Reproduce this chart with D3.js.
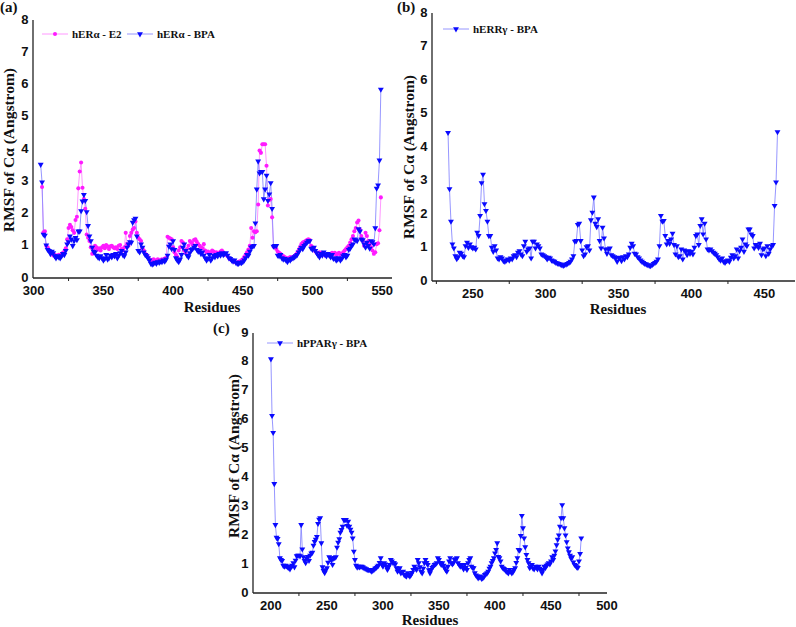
<!DOCTYPE html>
<html><head><meta charset="utf-8">
<script src="https://cdn.jsdelivr.net/npm/d3@7"></script>
<style>body{margin:0;background:#fff;} svg{display:block;}</style>
</head><body><svg id="c" width="796" height="627"></svg>
<script>
// ---------- DATA ----------
// Panel (a) hERα
const eraE2Start = 306;
const eraE2 = [
2.82,1.42,1.45,1.00,0.95,0.85,0.80,0.75,0.70,0.72,
0.70,0.68,0.72,0.70,0.75,0.78,0.82,0.92,1.20,1.55,
1.65,1.58,1.48,1.40,1.80,1.90,2.78,3.30,3.58,2.80,
2.45,2.15,1.35,1.25,1.15,0.95,0.75,0.90,1.00,0.95,
0.88,0.92,0.85,0.95,1.00,0.92,1.02,0.98,0.90,0.98,
1.00,0.95,0.92,0.95,0.90,1.00,1.02,0.90,0.85,0.95,
1.40,1.05,1.00,1.30,1.40,1.50,1.55,1.75,1.40,1.25,
1.20,1.15,0.92,0.85,0.75,0.72,0.65,0.58,0.55,0.55,
0.58,0.55,0.52,0.58,0.55,0.55,0.58,0.55,0.60,0.62,
1.28,1.25,1.22,1.20,0.95,0.80,0.72,0.65,0.85,0.95,
1.15,1.10,0.85,0.78,0.90,1.00,1.15,1.10,1.05,1.18,
1.20,1.12,1.05,1.00,0.95,0.92,1.05,0.85,0.80,0.82,
0.78,0.80,0.85,0.82,0.78,0.80,0.75,0.78,0.82,0.85,
0.80,0.75,0.72,0.68,0.62,0.58,0.55,0.52,0.50,0.48,
0.48,0.50,0.52,0.55,0.58,0.65,0.72,0.80,0.88,1.00,
1.55,1.25,1.45,1.42,1.45,2.28,3.95,3.88,4.15,4.15,
4.15,3.48,2.25,2.42,2.45,1.88,0.98,0.95,0.90,0.82,
0.78,0.75,0.70,0.68,0.65,0.62,0.60,0.62,0.65,0.60,
0.65,0.68,0.72,0.78,0.85,0.95,1.05,1.10,1.12,1.15,
1.18,1.20,1.18,1.00,0.95,0.90,0.82,0.78,0.75,0.80,
0.72,0.78,0.75,0.70,0.72,0.75,0.70,0.72,0.78,0.75,
0.78,0.72,0.75,0.78,0.72,0.75,0.80,0.85,0.90,0.95,
1.00,1.10,1.20,1.30,1.45,1.55,1.72,1.78,1.50,1.30,
1.15,1.00,1.40,1.30,1.15,1.05,0.95,0.85,0.75,0.80,
1.05,1.08,1.48,2.50];
const eraBPAStart = 305;
const eraBPA = [
3.52,2.97,1.35,1.32,1.02,0.88,0.85,0.75,0.82,0.78,
0.68,0.62,0.68,0.65,0.62,0.68,0.75,0.72,0.85,1.05,
1.12,1.30,1.20,1.00,1.15,1.25,1.18,1.45,1.45,2.08,
2.38,2.58,2.40,2.05,1.62,1.30,1.15,0.95,0.82,0.80,
0.70,0.65,0.62,0.68,0.62,0.55,0.60,0.72,0.58,0.62,
0.70,0.65,0.72,0.68,0.75,0.62,0.70,0.78,0.85,0.72,
0.68,0.80,0.95,1.05,1.12,1.10,1.72,1.80,1.85,1.30,
0.85,0.80,1.05,0.95,0.80,0.72,0.68,0.62,0.55,0.45,
0.42,0.45,0.48,0.45,0.50,0.48,0.52,0.50,0.55,0.52,
0.58,0.70,0.98,1.05,0.90,1.15,0.88,0.62,0.55,0.50,
0.58,0.72,0.95,1.05,0.85,0.70,0.65,0.78,0.88,0.90,
0.95,1.00,0.88,0.82,0.85,0.75,0.80,0.70,0.62,0.55,
0.60,0.72,0.55,0.62,0.70,0.65,0.72,0.68,0.75,0.70,
0.78,0.72,0.75,0.78,0.70,0.62,0.60,0.55,0.52,0.55,
0.48,0.45,0.45,0.48,0.47,0.50,0.55,0.62,0.72,0.70,
0.82,0.95,0.98,1.00,1.70,2.75,3.62,3.25,3.30,3.30,
2.45,2.75,3.18,2.40,2.60,2.95,2.15,0.98,1.00,1.00,
0.70,0.68,0.72,0.62,0.58,0.60,0.55,0.50,0.58,0.55,
0.60,0.62,0.65,0.68,0.72,0.80,0.88,0.95,0.90,1.00,
1.05,1.10,1.15,1.15,0.92,0.88,0.95,0.85,0.78,0.70,
0.65,0.75,0.70,0.80,0.72,0.68,0.75,0.70,0.65,0.72,
0.60,0.62,0.55,0.58,0.62,0.55,0.60,0.68,0.72,0.65,
0.70,0.88,0.92,1.00,1.05,1.20,1.18,1.15,1.52,1.45,
1.20,1.18,1.05,0.95,1.10,1.00,0.92,1.15,1.12,1.05,
1.55,2.78,2.88,3.65,5.85];

// Panel (b) hERRγ
const errStart = 233;
const errBPA = [
4.43,2.75,1.78,1.10,0.98,0.75,0.66,0.72,0.85,0.82,
0.75,0.72,1.05,1.15,1.00,1.10,1.02,0.98,1.00,0.95,
1.45,1.35,1.95,2.93,3.18,2.30,2.10,1.78,1.35,1.35,
1.00,0.88,1.05,0.92,0.68,0.65,0.72,0.68,0.60,0.58,
0.62,0.65,0.62,0.68,0.65,0.75,0.78,0.72,0.85,0.90,
0.80,0.75,1.05,1.18,0.88,0.95,0.98,0.68,1.18,1.18,
0.98,1.10,1.05,0.98,0.80,0.78,0.75,0.72,0.65,0.70,
0.68,0.62,0.60,0.58,0.55,0.53,0.52,0.50,0.48,0.46,
0.48,0.50,0.52,0.55,0.58,0.65,0.75,1.18,1.20,1.68,
1.72,1.20,0.92,0.75,0.80,1.02,1.05,0.92,1.82,2.05,
2.50,1.72,1.62,1.85,1.20,0.98,1.60,1.28,0.95,0.82,
0.95,0.98,0.78,0.75,0.72,0.68,0.58,0.70,0.68,0.60,
0.72,0.65,0.75,0.72,0.80,1.00,1.12,1.05,0.82,0.80,
0.72,0.68,0.62,0.58,0.55,0.52,0.50,0.48,0.46,0.45,
0.48,0.52,0.55,0.58,0.65,1.05,1.95,1.78,1.80,1.35,
1.10,1.20,1.12,1.25,1.42,1.08,0.80,1.05,0.72,0.75,
0.95,0.65,0.92,0.88,0.78,0.90,0.82,0.88,0.80,1.00,
1.35,1.40,1.08,1.65,1.85,1.40,1.72,1.25,0.95,0.92,
0.95,0.90,0.85,0.82,0.78,0.72,0.65,0.62,0.68,0.58,
0.55,0.60,0.62,0.58,0.70,0.78,0.68,0.75,0.95,0.68,
0.90,1.00,1.25,0.88,1.10,1.05,1.55,1.55,1.40,1.35,
0.98,1.08,1.05,1.00,1.12,0.78,0.95,0.98,0.75,1.05,
0.82,0.95,1.05,1.08,2.25,2.95,4.45];

// Panel (c) hPPARγ
const pparStart = 200;
const pparBPA = [
8.10,6.14,5.55,3.78,2.36,1.92,1.88,1.70,1.21,1.15,
1.12,0.95,0.92,0.95,0.93,0.90,0.87,0.83,0.92,0.95,
1.04,0.90,1.13,1.28,1.30,1.30,1.28,2.36,1.52,1.25,
1.12,1.04,1.20,1.26,1.12,1.30,1.38,1.40,1.65,1.78,
1.85,1.95,2.40,2.55,2.60,1.73,0.90,0.77,0.70,0.80,
0.87,1.06,1.25,1.20,1.13,0.98,1.21,1.22,1.25,1.58,
1.75,1.87,2.10,2.19,2.30,2.54,2.52,2.54,2.33,2.48,
2.30,2.20,2.10,1.90,1.44,1.15,0.95,0.89,0.92,0.90,
0.92,0.92,0.90,0.87,0.85,0.83,0.81,0.80,0.81,0.78,
0.75,0.78,0.81,0.85,0.88,0.92,0.95,1.05,1.21,1.00,
0.92,1.04,1.00,0.92,0.81,0.90,0.98,1.15,1.10,1.04,
1.04,1.00,0.87,0.75,0.80,0.87,0.69,0.72,0.75,0.63,
0.60,0.58,0.69,0.62,0.58,0.63,0.70,0.81,0.92,0.85,
0.81,1.15,1.04,0.90,0.75,0.69,0.85,1.04,1.15,1.05,
0.98,0.80,0.69,0.81,0.88,0.92,0.98,1.00,1.04,1.21,
1.15,1.05,0.98,1.04,0.95,0.87,0.80,0.75,0.92,1.10,
1.21,1.04,1.00,1.04,1.15,1.18,1.21,1.04,0.98,0.92,
0.98,0.90,0.83,0.98,0.88,0.81,1.04,1.15,1.21,0.92,
0.88,0.87,0.69,0.62,0.58,0.52,0.55,0.58,0.50,0.52,
0.55,0.63,0.66,0.69,0.75,0.85,0.92,1.04,1.12,1.21,
1.38,1.50,1.73,1.26,1.21,1.10,0.92,0.87,0.84,0.81,
0.75,0.72,0.69,0.81,0.75,0.69,0.72,0.81,0.87,1.05,
1.21,1.50,1.48,1.98,2.68,2.25,1.90,1.59,1.33,1.15,
1.04,0.87,0.92,0.98,0.85,0.83,0.92,0.88,0.83,0.92,
0.85,0.81,0.69,0.80,0.92,0.87,0.95,1.00,1.04,1.00,
1.10,1.25,1.15,1.30,1.45,1.66,1.85,2.00,2.30,2.60,
3.05,2.60,2.25,2.00,1.77,1.55,1.42,1.30,1.20,1.25,
1.07,0.98,0.95,0.90,0.88,1.10,1.36,1.90];

const ticksA = [300, 350, 400, 450, 500, 550];
const ticksB = [250, 300, 350, 400, 450];
const ticksC = [200, 250, 300, 350, 400, 450, 500];
const yTicks8 = [0,1,2,3,4,5,6,7,8];
const yTicks9 = [0,1,2,3,4,5,6,7,8,9];

// ---------- STYLE ----------
const BLUE = '#0a0aff', BLUE_LINE = '#8a8aff';
const MAG = '#ff1aff', MAG_LINE = '#ff8cff';
const SANS = 'Liberation Sans, Arial, sans-serif';
const SERIF = 'Liberation Serif, Times New Roman, serif';

const svg = d3.select('#c');
const triDown = d3.symbol().type(d3.symbolTriangle).size(15);
const circ = d3.symbol().type(d3.symbolCircle).size(13);

function toPts(start, vals){ return vals.map((v,i)=>({r:start+i, v})); }

function txt(sel, fam, size){
  return sel.attr('font-family', fam).attr('font-weight','bold').attr('font-size', size).attr('fill','#111');
}

function panel(cfg){
  const g = svg.append('g');
  const x = d3.scaleLinear().domain(cfg.xd).range(cfg.xr);
  const y = d3.scaleLinear().domain(cfg.yd).range(cfg.yr);
  cfg.series.forEach(s=>{
    const pts = toPts(s.start, s.values);
    g.append('path').datum(pts)
      .attr('d', d3.line().x(d=>x(d.r)).y(d=>y(d.v)))
      .attr('fill','none').attr('stroke', s.line).attr('stroke-width',0.9);
  });
  cfg.series.forEach(s=>{
    const pts = toPts(s.start, s.values);
    g.append('g').selectAll('path').data(pts).join('path')
      .attr('d', s.marker==='tri' ? triDown : circ)
      .attr('transform', d=>`translate(${x(d.r)},${y(d.v)})` + (s.marker==='tri' ? ' rotate(180)' : ''))
      .attr('fill', s.color);
  });
  const x0 = cfg.xr[0], yb = cfg.yr[0];
  g.append('line').attr('x1',x0).attr('x2',cfg.xr[1]).attr('y1',yb).attr('y2',yb)
    .attr('stroke','#222').attr('stroke-width',1.3);
  g.append('line').attr('x1',x0).attr('x2',x0).attr('y1',yb).attr('y2',cfg.yr[1])
    .attr('stroke','#222').attr('stroke-width',1.3);
  g.selectAll('.mt').data(cfg.minor).join('line')
    .attr('x1',d=>x(d)).attr('x2',d=>x(d)).attr('y1',yb).attr('y2',yb+3)
    .attr('stroke','#222').attr('stroke-width',1);
  txt(g.selectAll('.xl').data(cfg.xt).join('text')
    .attr('x',d=>x(d)).attr('y',yb+16.5).attr('text-anchor','middle'), SANS, 13).text(d=>d);
  txt(g.selectAll('.yl').data(cfg.yt).join('text')
    .attr('x',x0-4.5).attr('y',d=>y(d)+3.6).attr('text-anchor','end'), SANS, 13).text(d=>d);
  txt(g.append('text').attr('x',cfg.xtitle[0]).attr('y',cfg.xtitle[1]).attr('text-anchor','middle'), SERIF, 15)
    .text('Residues');
  txt(g.append('text').attr('transform',`translate(${cfg.ytitle[0]},${cfg.ytitle[1]}) rotate(-90)`)
    .attr('text-anchor','middle'), SERIF, 15.5).text('RMSF of Cα (Angstrom)');
  txt(g.append('text').attr('x',cfg.label[0]).attr('y',cfg.label[1]), SERIF, 15).text(cfg.label[2]);
  cfg.legend.forEach(L=>{
    g.append('line').attr('x1',L.x).attr('x2',L.x+26).attr('y1',L.y).attr('y2',L.y)
      .attr('stroke',L.line).attr('stroke-width',0.9);
    g.append('path').attr('d', L.marker==='tri'?triDown:circ)
      .attr('transform',`translate(${L.x+13},${L.y})`+(L.marker==='tri'?' rotate(180)':''))
      .attr('fill',L.color);
    txt(g.append('text').attr('x',L.x+30).attr('y',L.y+4), SERIF, 11).text(L.text);
  });
}

panel({
  xd:[299.5,557], xr:[33,392], yd:[0,8], yr:[278,20],
  xt:ticksA, yt:yTicks8, minor:[325,375,425,475,525],
  series:[
    {start:eraE2Start, values:eraE2, color:MAG, line:MAG_LINE, marker:'circ'},
    {start:eraBPAStart, values:eraBPA, color:BLUE, line:BLUE_LINE, marker:'tri'}
  ],
  xtitle:[212,312], ytitle:[14,150], label:[0,12,'(a)'],
  legend:[
    {x:42,y:34,text:'hERα - E2',color:MAG,line:MAG_LINE,marker:'circ'},
    {x:127,y:34,text:'hERα - BPA',color:BLUE,line:BLUE_LINE,marker:'tri'}
  ]
});
panel({
  xd:[222,471], xr:[432,795], yd:[0,8], yr:[281,13],
  xt:ticksB, yt:yTicks8, minor:[225,275,325,375,425],
  series:[{start:errStart, values:errBPA, color:BLUE, line:BLUE_LINE, marker:'tri'}],
  xtitle:[618,314], ytitle:[414,157], label:[397,12,'(b)'],
  legend:[{x:443,y:29,text:'hERRγ - BPA',color:BLUE,line:BLUE_LINE,marker:'tri'}]
});
panel({
  xd:[184,500], xr:[253,607], yd:[0,9], yr:[593,333],
  xt:ticksC, yt:yTicks9, minor:[225,275,325,375,425,475],
  series:[{start:pparStart, values:pparBPA, color:BLUE, line:BLUE_LINE, marker:'tri'}],
  xtitle:[430,624.5], ytitle:[239,456], label:[213,333,'(c)'],
  legend:[{x:267,y:343,text:'hPPARγ - BPA',color:BLUE,line:BLUE_LINE,marker:'tri'}]
});
</script></body></html>
